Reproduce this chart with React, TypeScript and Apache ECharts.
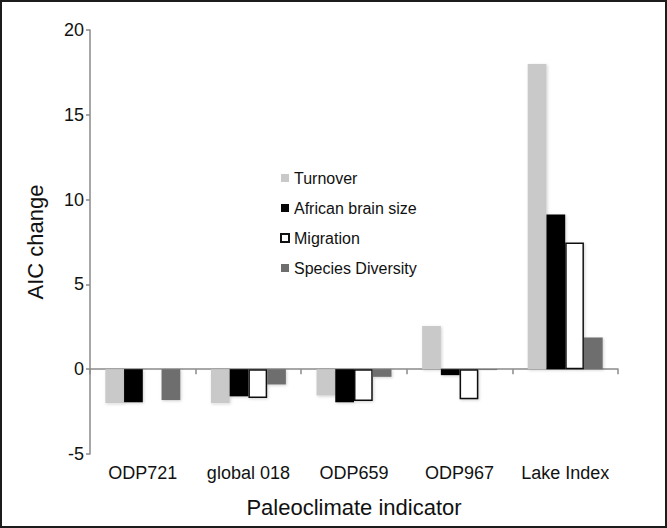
import React, { useEffect, useRef } from "react";
import * as echarts from "echarts";

const categories = ["ODP721", "global 018", "ODP659", "ODP967", "Lake Index"];
const turnover = [-2.0, -2.0, -1.55, 2.55, 18.0];
const brainSize = [-1.95, -1.6, -1.95, -0.35, 9.12];
const migration: (number | null)[] = [null, -1.7, -1.87, -1.77, 7.47];
const diversity = [-1.82, -0.9, -0.45, -0.05, 1.87];
const seriesNames = ["Turnover", "African brain size", "Migration", "Species Diversity"];

const FONT = "'Liberation Sans', Arial, Helvetica, sans-serif";

export default function App() {
  const ref = useRef<HTMLDivElement>(null);
  useEffect(() => {
    if (!ref.current) return;
    const chart = echarts.init(ref.current, undefined, { renderer: "svg" });
    const shadow = { shadowBlur: 3, shadowColor: "rgba(0,0,0,0.18)", shadowOffsetX: 1, shadowOffsetY: 1 };
    const mk = (name: string, data: (number | null)[], style: any) => ({
      name,
      type: "bar",
      data,
      xAxisIndex: 0,
      yAxisIndex: 0,
      barGap: "0%",
      barCategoryGap: "29%",
      itemStyle: { ...style, ...shadow },
    });
    chart.setOption({
      animation: false,
      backgroundColor: "#ffffff",
      textStyle: { fontFamily: FONT },
      grid: { left: 90, right: 49, top: 30, bottom: 74 },
      legend: {
        orient: "vertical",
        left: 275,
        top: 165,
        itemWidth: 8,
        itemHeight: 8,
        itemGap: 14,
        icon: "rect",
        textStyle: { fontSize: 16, color: "#111", fontFamily: FONT },
        data: seriesNames,
      },
      xAxis: [
        {
          type: "category",
          data: categories,
          position: "bottom",
          axisLine: { show: false, onZero: false },
          axisTick: { show: false },
          axisLabel: { fontSize: 18, color: "#111", margin: 10, fontFamily: FONT, interval: 0 },
          name: "Paleoclimate indicator",
          nameLocation: "middle",
          nameGap: 42,
          nameTextStyle: { fontSize: 22, color: "#111", fontFamily: FONT },
        },
        {
          type: "category",
          data: categories,
          position: "bottom",
          axisLine: { show: true, onZero: true, lineStyle: { color: "#8a8a8a", width: 1.5 } },
          axisTick: { show: true, length: 5, inside: false, interval: 0, lineStyle: { color: "#8a8a8a", width: 1.5 } },
          axisLabel: { show: false, interval: 0 },
        },
      ],
      yAxis: {
        type: "value",
        min: -5,
        max: 20,
        interval: 5,
        splitLine: { show: false },
        axisLine: { show: true, lineStyle: { color: "#8a8a8a", width: 1.5 } },
        axisTick: { show: true, length: 4, lineStyle: { color: "#8a8a8a", width: 1.5 } },
        axisLabel: { fontSize: 18, color: "#111", margin: 6, fontFamily: FONT },
        name: "AIC change",
        nameLocation: "middle",
        nameGap: 44,
        nameTextStyle: { fontSize: 22, color: "#111", fontFamily: FONT },
      },
      series: [
        mk(seriesNames[0], turnover, { color: "#c9c9c9" }),
        mk(seriesNames[1], brainSize, { color: "#060606" }),
        mk(seriesNames[2], migration, { color: "#ffffff", borderColor: "#111", borderWidth: 1.5 }),
        mk(seriesNames[3], diversity, { color: "#6e6e6e" }),
      ],
      graphic: [
        {
          type: "rect",
          shape: { x: 1, y: 1, width: 665, height: 526 },
          style: { fill: "none", stroke: "#1c1c1c", lineWidth: 2 },
          silent: true,
          z: 100,
        },
      ],
    });
    return () => chart.dispose();
  }, []);
  return (
    <div
      ref={ref}
      style={{ position: "fixed", left: 0, top: 0, width: 667, height: 528 }}
    />
  );
}
